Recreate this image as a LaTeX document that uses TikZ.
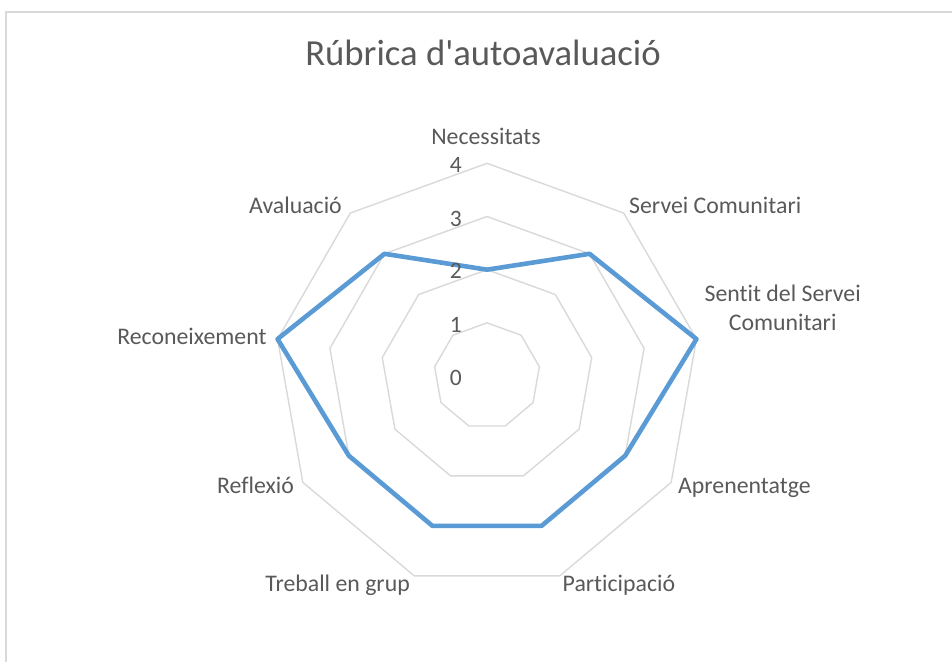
\documentclass[tikz,border=0pt]{standalone}
\usepackage{fontspec}
\setmainfont{Carlito}[Ligatures={TeXOff,CommonOff}]
\usetikzlibrary{calc}
\definecolor{txt}{HTML}{595959}
\definecolor{gridc}{HTML}{D9D9D9}
\definecolor{serie}{HTML}{5B9BD5}
\tikzset{
  lbl/.style={inner sep=0pt, text=txt, font=\fontsize{23.8}{28.3}\selectfont},
  tick/.style={inner sep=0pt, text=txt, font=\fontsize{23.5}{26}\selectfont, anchor=base east},
  ring/.style={draw=gridc, line width=1.4pt, line join=round},
  series/.style={draw=serie, line width=4.6pt, line join=round},
}
\begin{document}
\begin{tikzpicture}[x=1pt,y=-1pt]
\useasboundingbox (0,0) rectangle (952,661);
\clip (0,0) rectangle (952,661);
\draw[gridc, line width=1.5pt] (6,12) rectangle (990,700);
\node[lbl, anchor=base, font=\fontsize{36.7}{40}\selectfont] (title) at (483,65) {Rúbrica d'autoavaluació};
\begin{scope}[shift={(487,376)}]
  \foreach \k in {1,2,3,4}{
    \draw[ring] (90:{\k*53.17pt}) -- (50:{\k*53.17pt}) -- (10:{\k*53.17pt}) -- (-30:{\k*53.17pt}) -- (-70:{\k*53.17pt}) -- (-110:{\k*53.17pt}) -- (-150:{\k*53.17pt}) -- (170:{\k*53.17pt}) -- (130:{\k*53.17pt}) -- cycle;
  }
  \coordinate (d1) at (90:{2*53.17pt});
  \coordinate (d2) at (50:{3*53.17pt});
  \coordinate (d3) at (10:{4*53.17pt});
  \coordinate (d4) at (-30:{3*53.17pt});
  \coordinate (d5) at (-70:{3*53.17pt});
  \coordinate (d6) at (-110:{3*53.17pt});
  \coordinate (d7) at (-150:{3*53.17pt});
  \coordinate (d8) at (170:{4*53.17pt});
  \coordinate (d9) at (130:{3*53.17pt});
  \draw[series] (d1) -- (d2) -- (d3) -- (d4) -- (d5) -- (d6) -- (d7) -- (d8) -- (d9) -- cycle;
\end{scope}
\node[tick] (t4) at (462,172) {4};
\node[tick] (t3) at (462,226) {3};
\node[tick] (t2) at (462,278.5) {2};
\node[tick] (t1) at (462,332) {1};
\node[tick] (t0) at (462,385) {0};
\node[lbl, anchor=base] (a1) at (486,144) {Necessitats};
\node[lbl, anchor=base west] (a2) at (629,213.3) {Servei Comunitari};
\node[lbl, anchor=base, align=center] (a3) at (782.7,330) {Sentit del Servei\\Comunitari};
\node[lbl, anchor=base west] (a4) at (678,493.3) {Aprenentatge};
\node[lbl, anchor=base west] (a5) at (562.5,591.7) {Participació};
\node[lbl, anchor=base east] (a6) at (410,591.7) {Treball en grup};
\node[lbl, anchor=base east] (a7) at (294,493.3) {Reflexió};
\node[lbl, anchor=base east] (a8) at (266.7,344) {Reconeixement};
\node[lbl, anchor=base east] (a9) at (342,213.3) {Avaluació};
\end{tikzpicture}
\end{document}
